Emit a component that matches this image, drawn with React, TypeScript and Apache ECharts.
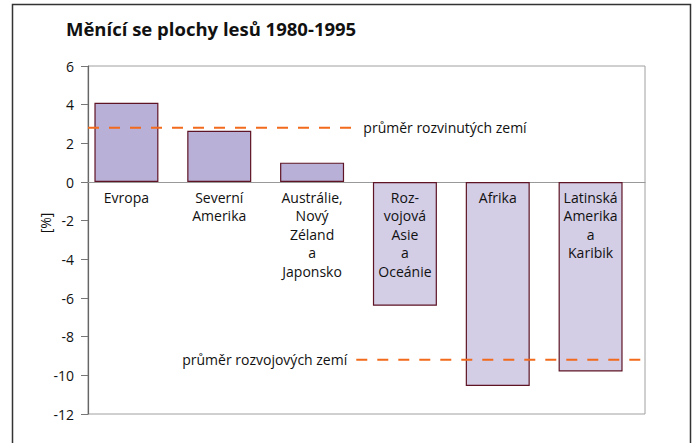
import React, { useEffect, useRef } from "react";
import * as echarts from "echarts";

const categories = [
  "Evropa",
  "Severní\nAmerika",
  "Austrálie,\nNový\nZéland\na\nJaponsko",
  "Roz-\nvojová\nAsie\na\nOceánie",
  "Afrika",
  "Latinská\nAmerika\na\nKaribik",
];
const values = [4.1, 2.65, 1.0, -6.4, -10.55, -9.8];
const developedAvg = 2.8;
const developingAvg = -9.2;
const developedLabel = "průměr rozvinutých zemí";
const developingLabel = "průměr rozvojových zemí";
const yTicks = { min: -12, max: 6, interval: 2 };

const FONT = "'Open Sans', 'Noto Sans', sans-serif";
const TEXT = "#111";

export default function App() {
  const ref = useRef<HTMLDivElement>(null);
  useEffect(() => {
    const chart = echarts.init(ref.current!, null, { renderer: "svg" });
    const barData = values.map((v, i) => ({
      value: v,
      itemStyle: { color: i < 3 ? "#b8b0d6" : "#d3cde6" },
    }));
    const lineLabel = {
      fontFamily: FONT,
      fontSize: 14,
      color: TEXT,
    };
    const dash = { color: "#f26a1b", width: 2, type: [11, 10] };
    chart.setOption({
      animation: false,
      textStyle: { fontFamily: FONT },
      title: {
        text: "Měnící se plochy lesů 1980-1995",
        left: 61,
        top: 14,
        textStyle: { fontFamily: FONT, fontWeight: "bold", fontSize: 18.5, color: "#111" },
      },
      graphic: [
        {
          type: "rect",
          shape: { x: 12.5, y: 4.5, width: 678, height: 460 },
          style: { fill: "none", stroke: "#333", lineWidth: 1.5 },
          silent: true,
        },
        {
          type: "text",
          x: 45,
          y: 223,
          rotation: Math.PI / 2,
          style: {
            text: "[%]",
            fontFamily: FONT,
            fontSize: 14,
            fill: TEXT,
            align: "center",
            verticalAlign: "middle",
          },
        },
      ],
      grid: {
        left: 88,
        right: 54,
        top: 66,
        bottom: 29,
        show: true,
        borderColor: "#a0a0a0",
        borderWidth: 1,
        containLabel: false,
        outerBoundsMode: "none",
      },
      xAxis: [
        {
          type: "category",
          data: categories,
          axisLine: { onZero: true, lineStyle: { color: "#999", width: 1.2 } },
          axisTick: { show: false },
          axisLabel: { show: false },
        },
        {
          type: "value",
          min: 0,
          max: 6,
          show: false,
        },
      ],
      yAxis: {
        type: "value",
        min: yTicks.min,
        max: yTicks.max,
        interval: yTicks.interval,
        splitLine: { show: false },
        axisLine: { show: true, lineStyle: { color: "#666", width: 1.2 } },
        axisTick: { show: true, length: 7, lineStyle: { color: "#777" } },
        axisLabel: { fontFamily: FONT, fontSize: 14, color: TEXT, margin: 14 },
      },
      series: [
        {
          type: "bar",
          data: barData,
          barWidth: 64,
          barGap: "0%",
          xAxisIndex: 0,
          itemStyle: { borderColor: "#5e1424", borderWidth: 1.2 },
        },
        {
          type: "bar",
          data: categories.map(() => "-"),
          barWidth: 16,
          barGap: "0%",
          xAxisIndex: 0,
          silent: true,
        },
        {
          type: "scatter",
          xAxisIndex: 0,
          symbolSize: 0,
          z: 10,
          silent: true,
          itemStyle: { opacity: 1 },
          data: categories.map((c) => [c, 0]),
          label: {
            show: true,
            position: "bottom",
            distance: 6,
            offset: [-8, 0],
            formatter: (p: any) => categories[p.dataIndex],
            fontFamily: FONT,
            fontSize: 14,
            lineHeight: 18.5,
            color: TEXT,
            opacity: 1,
            align: "center",
          },
        },
        {
          type: "line",
          xAxisIndex: 1,
          symbol: "circle",
          symbolSize: 0.1,
          showSymbol: true,
          z: 5,
          silent: true,
          lineStyle: dash,
          itemStyle: { color: "#f26a1b" },
          data: [
            { value: [0, developedAvg], label: { show: false } },
            {
              value: [2.89, developedAvg],
              label: {
                show: true,
                position: "right",
                distance: 7,
                formatter: developedLabel,
                ...lineLabel,
              },
            },
          ],
        },
        {
          type: "line",
          xAxisIndex: 1,
          symbol: "circle",
          symbolSize: 0.1,
          showSymbol: true,
          z: 5,
          silent: true,
          lineStyle: dash,
          itemStyle: { color: "#f26a1b" },
          data: [
            {
              value: [2.89, developingAvg],
              label: {
                show: true,
                position: "left",
                distance: 9,
                formatter: developingLabel,
                ...lineLabel,
              },
            },
            { value: [6, developingAvg], label: { show: false } },
          ],
        },
      ],
    });
    return () => chart.dispose();
  }, []);
  return <div ref={ref} style={{ width: 699, height: 443, position: "absolute", left: 0, top: 0 }} />;
}
